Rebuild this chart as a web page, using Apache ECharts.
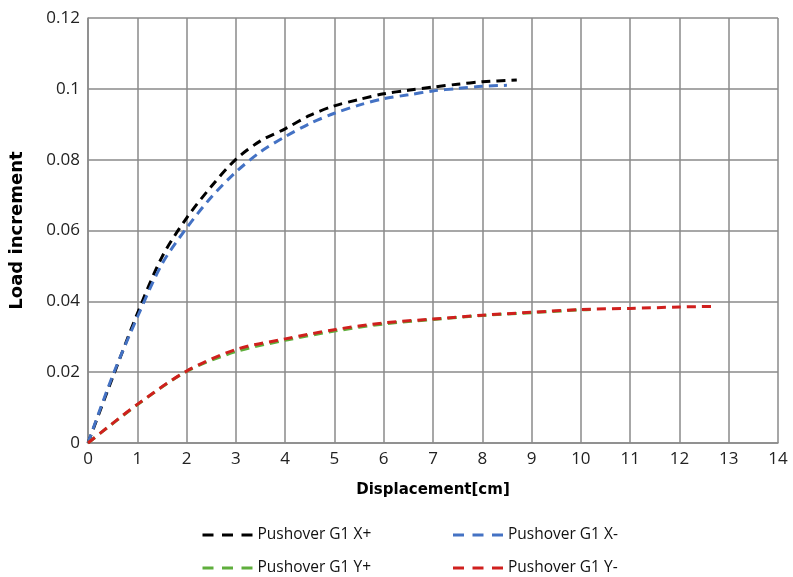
<!DOCTYPE html>
<html>
<head>
<meta charset="utf-8">
<script src="https://cdn.jsdelivr.net/npm/echarts@6/dist/echarts.min.js"></script>
<style>html,body{margin:0;padding:0;background:#fff}#c{width:793px;height:577px}</style>
</head>
<body>
<div id="c"></div>
<script>
const seriesNames = ['Pushover G1 X+', 'Pushover G1 X-', 'Pushover G1 Y+', 'Pushover G1 Y-'];
const xPlusX = [0, 0.5, 1, 1.5, 2, 2.5, 3, 3.5, 4, 4.5, 5, 5.5, 6, 6.5, 7, 7.5, 8, 8.7];
const xPlusY = [0, 0.0185, 0.0365, 0.0525, 0.0635, 0.0724, 0.0801, 0.0853, 0.0887, 0.0925, 0.0952, 0.097, 0.0986, 0.0996, 0.1005, 0.1013, 0.102, 0.1025];
const xMinusX = [0, 0.5, 1, 1.5, 2, 2.5, 3, 3.5, 4, 4.5, 5, 5.5, 6, 6.5, 7, 7.5, 8, 8.5];
const xMinusY = [0, 0.019, 0.0355, 0.0505, 0.0607, 0.0694, 0.0765, 0.0822, 0.0865, 0.0902, 0.0931, 0.0954, 0.0972, 0.0983, 0.0994, 0.1001, 0.1007, 0.101];
const yPlusX = [0, 1, 2, 3, 4, 5, 6, 7, 8, 9, 10, 10.2];
const yPlusY = [0, 0.0108, 0.0202, 0.0258, 0.029, 0.0316, 0.0336, 0.0349, 0.036, 0.0368, 0.0376, 0.0377];
const yMinusX = [0, 1, 2, 3, 4, 5, 6, 7, 8, 9, 10, 11, 12, 12.75];
const yMinusY = [0, 0.0109, 0.0203, 0.0264, 0.0294, 0.032, 0.0339, 0.035, 0.0361, 0.0369, 0.0377, 0.038, 0.0384, 0.0386];
const xTicks = [0, 14, 1];
const yTicks = [0, 0.12, 0.02];

const colors = ['#000000', '#4472C4', '#5FAE3C', '#D0201E'];
const xs = [xPlusX, xMinusX, yPlusX, yMinusX];
const ys = [xPlusY, xMinusY, yPlusY, yMinusY];

const chart = echarts.init(document.getElementById('c'), null, {renderer: 'canvas'});
const gridColor = '#8a8a8a';
chart.setOption({
  animation: false,
  grid: {left: 88, right: 15, top: 18, bottom: 134, containLabel: false},
  xAxis: {
    type: 'value', min: xTicks[0], max: xTicks[1], interval: xTicks[2],
    name: 'Displacement[cm]', nameLocation: 'middle', nameGap: 40,
    nameTextStyle: {fontFamily: 'DejaVu Sans', fontWeight: 'bold', fontSize: 15, color: '#000'},
    axisLine: {lineStyle: {color: gridColor, width: 1.5}},
    axisTick: {show: false},
    axisLabel: {fontFamily: 'Open Sans', fontSize: 17, color: '#222', margin: 8},
    splitLine: {lineStyle: {color: gridColor, width: 1.5}}
  },
  yAxis: {
    type: 'value', min: yTicks[0], max: yTicks[1], interval: yTicks[2],
    name: 'Load increment', nameLocation: 'middle', nameGap: 62,
    nameTextStyle: {fontFamily: 'DejaVu Sans', fontWeight: 'bold', fontSize: 18, color: '#000'},
    axisLine: {show: true, lineStyle: {color: gridColor, width: 1.5}},
    axisTick: {show: false},
    axisLabel: {fontFamily: 'Open Sans', fontSize: 17, color: '#222', margin: 8},
    splitLine: {lineStyle: {color: gridColor, width: 1.5}}
  },
  legend: {
    data: seriesNames, left: 196, top: 520, width: 520, orient: 'horizontal',
    itemWidth: 50, itemHeight: 14, itemGap: 13,
    itemStyle: {opacity: 0},
    lineStyle: {width: 3, type: [11, 8.5]},
    textStyle: {fontFamily: 'Open Sans', fontSize: 15.5, color: '#111', width: 181, lineHeight: 20, height: 20}
  },
  series: seriesNames.map((n, i) => ({
    name: n, type: 'line', smooth: 0.3, showSymbol: false, symbol: 'none',
    data: xs[i].map((x, j) => [x, ys[i][j]]),
    lineStyle: {color: colors[i], width: 3, type: [9, 6]},
    itemStyle: {color: colors[i]},
    z: 2 + i
  }))
});
</script>
</body>
</html>
